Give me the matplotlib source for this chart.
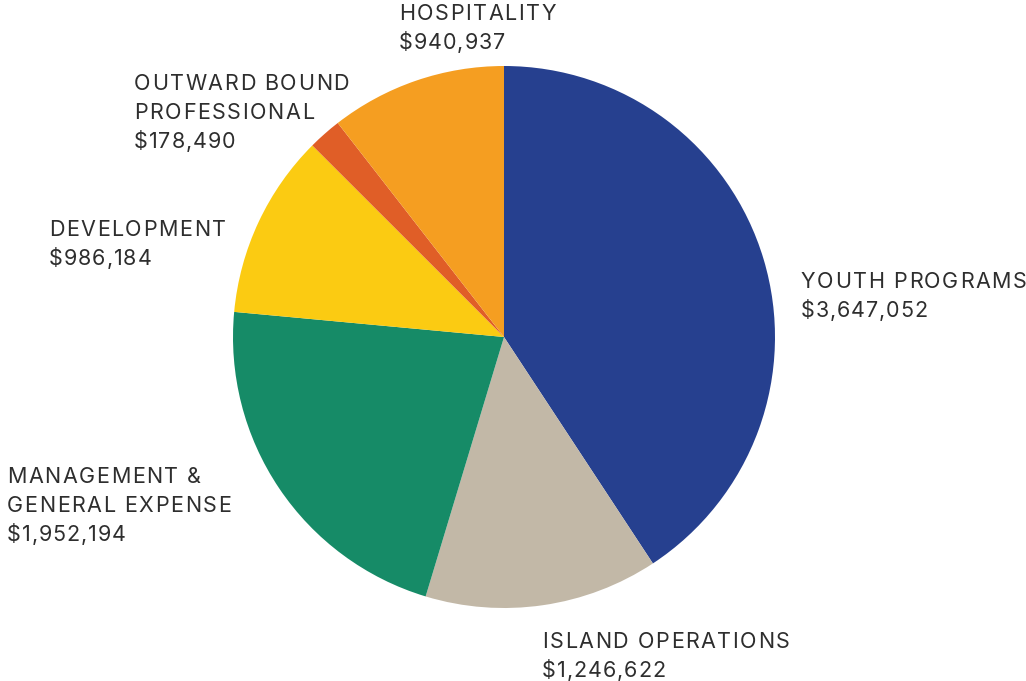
import matplotlib.pyplot as plt
from matplotlib.font_manager import FontProperties

# budget split, clockwise from 12 o'clock
categories = ['YOUTH PROGRAMS', 'ISLAND OPERATIONS', 'MANAGEMENT &\nGENERAL EXPENSE',
              'DEVELOPMENT', 'OUTWARD BOUND\nPROFESSIONAL', 'HOSPITALITY']
amounts = [3647052, 1246622, 1952194, 986184, 178490, 940937]
colors = ['#26408f', '#c2b8a7', '#168b67', '#fbcb12', '#e05e27', '#f59e21']

# label anchor (left x, baseline of first line) in image pixels
label_pos = [(801, 288), (542, 648), (7, 483), (49, 236), (134, 90), (399, 20)]

W, H = 1026, 681
fig = plt.figure(figsize=(W / 100, H / 100), dpi=100)
ax = fig.add_axes([0, 0, 1, 1])

ax.pie(amounts, colors=colors, startangle=90, counterclock=False,
       center=(504, H - 337), radius=271, frame=True,
       wedgeprops={'linewidth': 0})
ax.set_xlim(0, W)
ax.set_ylim(0, H)
ax.set_aspect('equal')
ax.axis('off')

fp = FontProperties(family='Inter', size=15.5)
renderer = fig.canvas.get_renderer()


def text_width(s):
    # width of s incl. trailing spaces, measured against a bar glyph
    bar = renderer.get_text_width_height_descent('|', fp, ismath=False)[0]
    return renderer.get_text_width_height_descent(s + '|', fp, ismath=False)[0] - bar


def spaced_text(x, y, s, tracking):
    # draw char by char, using the prefix width to keep kerning
    for i, ch in enumerate(s):
        if ch == ' ':
            continue
        w = text_width(s[:i]) if i else 0
        ax.text(x + w + i * tracking, y, ch, ha='left', va='baseline',
                fontproperties=fp, color='#2e2e2e')


line_gap = 29
for name, value, (x, y) in zip(categories, amounts, label_pos):
    lines = name.split('\n') + [f'${value:,}']
    for i, line in enumerate(lines):
        track = 0.9 if line.startswith('$') else 1.6
        spaced_text(x, H - (y + i * line_gap), line, track)

fig.savefig('out.png', dpi=100)
